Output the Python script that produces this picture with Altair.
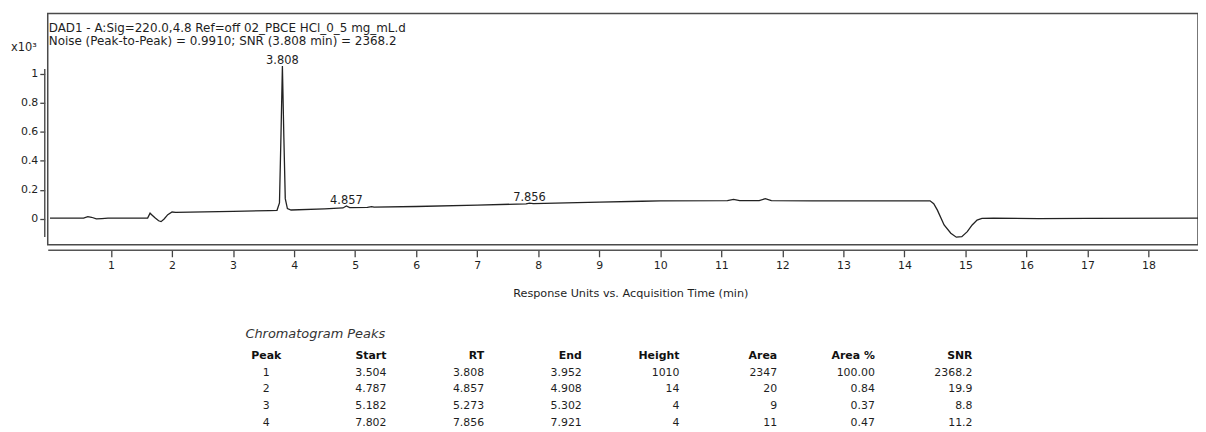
import altair as alt
import pandas as pd

# ---------------- chromatogram trace ----------------
time = [0.0, 0.55, 0.62, 0.68, 0.76, 0.85, 0.95, 1.60, 1.64, 1.67, 1.72, 1.78, 1.82,
        1.87, 1.93, 2.00, 2.06, 3.00, 3.60, 3.72, 3.76, 3.785, 3.808, 3.832, 3.855,
        3.89, 3.95, 4.50, 4.80, 4.857, 4.91, 5.20, 5.27, 5.31, 6.00, 7.00, 7.80,
        7.856, 7.92, 9.00, 9.70, 10.00, 11.10, 11.20, 11.30, 11.62, 11.72, 11.82,
        12.50, 14.42, 14.48, 14.54, 14.65, 14.76, 14.85, 14.94, 15.03, 15.11, 15.19,
        15.27, 15.46, 16.20, 17.00, 18.81]
signal = [6, 6, 16, 12, 1, 3, 6, 6, 40, 28, 8, -12, -18,
          0, 30, 48, 46, 53, 58, 60, 110, 580, 1051, 560, 140,
          72, 62, 70, 76, 90, 78, 80, 85, 81, 86, 96, 104,
          109, 105, 116, 122, 125, 126, 135, 126, 126, 140, 126,
          125, 125, 105, 61, -41, -98, -125, -121, -87, -41, -7,
          4, 6, 2, 5, 6]

label_rt = [3.808, 4.857, 7.856]
label_y = [1051, 90, 109]
label_text = ["3.808", "4.857", "7.856"]

header_lines = ["DAD1 - A:Sig=220.0,4.8  Ref=off 02_PBCE HCl_0_5 mg_mL.d",
                "Noise (Peak-to-Peak) = 0.9910; SNR (3.808 min) = 2368.2"]
x_ticks = list(range(1, 19))
y_ticks = [0, 200, 400, 600, 800, 1000]

# ---------------- peak table ----------------
peaks = ["1", "2", "3", "4"]
columns = ["Start", "RT", "End", "Height", "Area", "Area %", "SNR"]
start = ["3.504", "4.787", "5.182", "7.802"]
rt = ["3.808", "4.857", "5.273", "7.856"]
end = ["3.952", "4.908", "5.302", "7.921"]
height = ["1010", "14", "4", "4"]
area = ["2347", "20", "9", "11"]
area_pct = ["100.00", "0.84", "0.37", "0.47"]
snr = ["2368.2", "19.9", "8.8", "11.2"]

FONT = "DejaVu Sans"
TXT = "#1e1e1e"

trace_df = pd.DataFrame({"t": time, "v": signal})
lab_df = pd.DataFrame({"t": label_rt, "v": label_y, "txt": label_text})

xs = alt.Scale(domain=[-0.037, 18.81], nice=False, zero=False)
ys = alt.Scale(domain=[-177.5, 1413], nice=False, zero=False)

line = alt.Chart(trace_df).mark_line(color="#222222", strokeWidth=1.3).encode(
    x=alt.X("t:Q", scale=xs, axis=alt.Axis(
        values=x_ticks, format="d", title=None, grid=False, offset=5, tickSize=7,
        tickColor="#444", tickWidth=1.3, domainColor="#555", domainWidth=1.5,
        labelFont=FONT, labelFontSize=11, labelColor=TXT, labelPadding=3,
        labelFlush=False)),
    y=alt.Y("v:Q", scale=ys, axis=alt.Axis(
        values=y_ticks, title=None, grid=False, offset=3, tickSize=5,
        tickColor="#444", tickWidth=1.3, domain=False,
        labelExpr="datum.value / 1000", labelFont=FONT, labelFontSize=11,
        labelColor=TXT, labelPadding=2)),
)

labels = alt.Chart(lab_df).mark_text(
    font=FONT, fontSize=11.5, color=TXT, baseline="alphabetic", dy=-2
).encode(x=alt.X("t:Q", scale=xs), y=alt.Y("v:Q", scale=ys), text="txt:N")

yaxis_line = alt.Chart(pd.DataFrame({"a": [-123], "b": [1030]})).mark_rule(
    color="#555", strokeWidth=1.5
).encode(x=alt.value(-3), y=alt.Y("a:Q", scale=ys), y2="b:Q")

texts = []
for i, s in enumerate(header_lines):
    texts.append(alt.Chart(pd.DataFrame({"s": [s]})).mark_text(
        font=FONT, fontSize=12, color=TXT, align="left", baseline="middle"
    ).encode(text="s:N", x=alt.value(1), y=alt.value(15 + 13 * i)))

texts.append(alt.Chart(pd.DataFrame({"s": ["x10³"]})).mark_text(
    font=FONT, fontSize=11.5, color=TXT, align="center", baseline="middle"
).encode(text="s:N", x=alt.value(-24), y=alt.value(35)))

texts.append(alt.Chart(pd.DataFrame({"s": ["Response Units vs. Acquisition Time (min)"]})).mark_text(
    font=FONT, fontSize=11.3, color=TXT, align="center", baseline="middle"
).encode(text="s:N", x=alt.value(587), y=alt.value(283)))

texts.append(alt.Chart(pd.DataFrame({"s": ["Chromatogram Peaks"]})).mark_text(
    font=FONT, fontSize=13, fontStyle="italic", color="#333", align="left", baseline="middle"
).encode(text="s:N", x=alt.value(199), y=alt.value(323)))

main = alt.layer(line, yaxis_line, labels, *texts)

# table
hdr_df = pd.DataFrame({"col": columns, "row": ["header"] * len(columns), "txt": columns})
body_rows = []
for i, p in enumerate(peaks):
    for c, vals in zip(columns, [start, rt, end, height, area, area_pct, snr]):
        body_rows.append({"col": c, "row": p, "txt": vals[i]})
body_df = pd.DataFrame(body_rows)
peak_hdr_df = pd.DataFrame({"row": ["header"], "txt": ["Peak"]})
peak_body_df = pd.DataFrame({"row": peaks, "txt": peaks})

row_scale = alt.Scale(domain=["header"] + peaks, range=[345, 412], padding=0)
col_scale = alt.Scale(domain=columns, range=[341, 931], padding=0)

t_hdr = alt.Chart(hdr_df).mark_text(
    font=FONT, fontSize=11, fontWeight="bold", color="#111", align="right", baseline="middle"
).encode(x=alt.X("col:N", scale=col_scale, axis=None),
         y=alt.Y("row:N", scale=row_scale, axis=None), text="txt:N")
t_body = alt.Chart(body_df).mark_text(
    font=FONT, fontSize=11, color=TXT, align="right", baseline="middle"
).encode(x=alt.X("col:N", scale=col_scale, axis=None),
         y=alt.Y("row:N", scale=row_scale, axis=None), text="txt:N")
p_hdr = alt.Chart(peak_hdr_df).mark_text(
    font=FONT, fontSize=11, fontWeight="bold", color="#111", align="center", baseline="middle"
).encode(x=alt.value(220), y=alt.Y("row:N", scale=row_scale, axis=None), text="txt:N")
p_body = alt.Chart(peak_body_df).mark_text(
    font=FONT, fontSize=11, color=TXT, align="center", baseline="middle"
).encode(x=alt.value(220), y=alt.Y("row:N", scale=row_scale, axis=None), text="txt:N")

table = alt.layer(t_hdr, t_body, p_hdr, p_body)

chart = alt.layer(main, table).resolve_scale(x="independent", y="independent").properties(
    width=1158, height=233,
    autosize=alt.AutoSizeParams(type="none"),
    padding={"left": 40, "top": 4, "right": 0, "bottom": 187},
    background="white",
).configure_view(stroke="#4a4a4a", strokeWidth=1.5)

chart.save("out.html", embed_options={"renderer": "svg", "actions": False})
